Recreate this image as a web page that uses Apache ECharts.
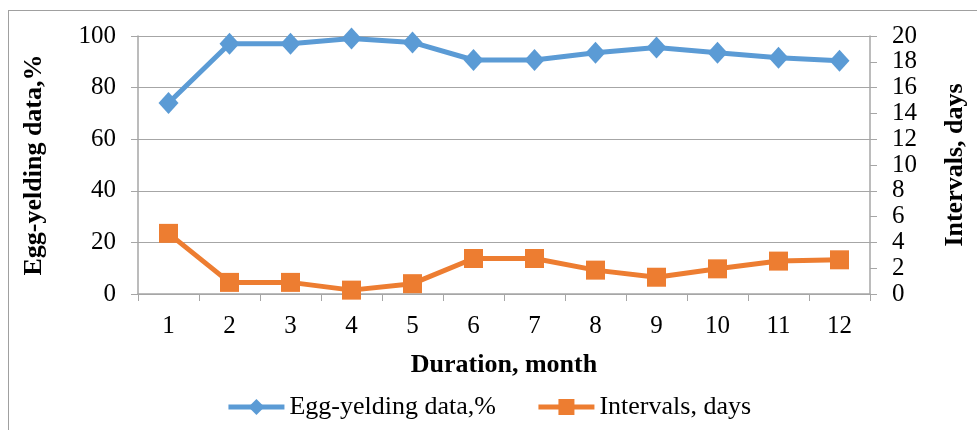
<!DOCTYPE html>
<html><head><meta charset="utf-8">
<script src="https://cdn.jsdelivr.net/npm/echarts@6/dist/echarts.min.js"></script>
<style>html,body{margin:0;padding:0;background:#fff}#c{width:977px;height:430px}
#frame{position:absolute;left:8px;top:10px;width:980px;height:430px;border:1px solid #a0a0a0;box-sizing:border-box;pointer-events:none}</style>
</head><body><div id="c"></div><div id="frame"></div>
<script>
const months = ['1','2','3','4','5','6','7','8','9','10','11','12'];
const eggData = [74, 97, 97, 99, 97.5, 90.7, 90.7, 93.5, 95.5, 93.5, 91.6, 90.4];
const intervalData = [4.7, 0.9, 0.9, 0.3, 0.8, 2.75, 2.75, 1.85, 1.3, 1.95, 2.55, 2.65];
const leftTicks = [0, 20, 40, 60, 80, 100];
const rightTicks = [0, 2, 4, 6, 8, 10, 12, 14, 16, 18, 20];

const font = '"Liberation Serif", "Times New Roman", serif';
const axisGray = '#a6a6a6';
const chart = echarts.init(document.getElementById('c'));
chart.setOption({
  animation: false,
  textStyle: {fontFamily: font, color: '#000'},
  grid: {left: 138, right: 107, top: 36, bottom: 136},
  legend: {
    bottom: 5, left: 'center', itemGap: 40, itemWidth: 56, itemHeight: 20,
    lineStyle: {width: 5},
    textStyle: {fontFamily: font, fontSize: 26, color: '#000'},
    data: ['Egg-yelding data,%', 'Intervals, days']
  },
  xAxis: {
    type: 'category', data: months, boundaryGap: true,
    name: 'Duration, month', nameLocation: 'middle', nameGap: 58,
    nameTextStyle: {fontFamily: font, fontSize: 26, fontWeight: 'bold', color: '#000'},
    axisLine: {lineStyle: {color: axisGray, width: 1.5}},
    axisTick: {show: true, length: 7, lineStyle: {color: axisGray}},
    axisLabel: {fontFamily: font, fontSize: 25, color: '#000', margin: 20}
  },
  yAxis: [{
    type: 'value', min: leftTicks[0], max: leftTicks[leftTicks.length - 1], interval: 20,
    name: 'Egg-yelding data,%', nameLocation: 'middle', nameRotate: 90, nameGap: 91,
    nameTextStyle: {fontFamily: font, fontSize: 26, fontWeight: 'bold', color: '#000'},
    axisLine: {show: true, lineStyle: {color: axisGray, width: 1.5}},
    axisTick: {show: true, length: 7, lineStyle: {color: axisGray}},
    axisLabel: {fontFamily: font, fontSize: 25, color: '#000', margin: 22},
    splitLine: {show: true, lineStyle: {color: axisGray, width: 1.2}}
  }, {
    type: 'value', position: 'right', min: rightTicks[0], max: rightTicks[rightTicks.length - 1], interval: 2,
    name: 'Intervals, days', nameLocation: 'middle', nameRotate: 90, nameGap: 72,
    nameTextStyle: {fontFamily: font, fontSize: 26, fontWeight: 'bold', color: '#000'},
    axisLine: {show: true, lineStyle: {color: axisGray, width: 1.5}},
    axisTick: {show: true, length: 7, lineStyle: {color: axisGray}},
    axisLabel: {fontFamily: font, fontSize: 25, color: '#000', margin: 22},
    splitLine: {show: false}
  }],
  series: [{
    name: 'Egg-yelding data,%', type: 'line', yAxisIndex: 0, data: eggData,
    symbol: 'diamond', symbolSize: [20, 22],
    lineStyle: {color: '#5B9BD5', width: 5},
    itemStyle: {color: '#5B9BD5'}
  }, {
    name: 'Intervals, days', type: 'line', yAxisIndex: 1, data: intervalData,
    symbol: 'rect', symbolSize: 19,
    lineStyle: {color: '#ED7D31', width: 5},
    itemStyle: {color: '#ED7D31'}
  }]
});
</script></body></html>
